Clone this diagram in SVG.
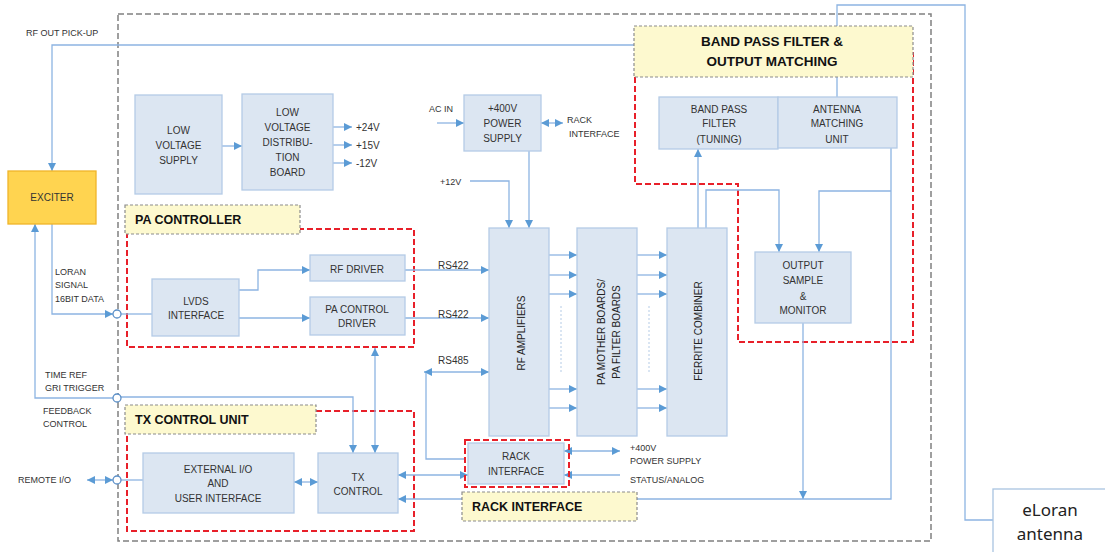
<svg xmlns="http://www.w3.org/2000/svg" width="1105" height="552" viewBox="0 0 1105 552">
<style>
.box{fill:#DCE6F2;stroke:#B4CBE6;stroke-width:1.3}
.t{font-family:"Liberation Sans",Arial,sans-serif;font-size:10px;fill:#333}
.s{font-family:"Liberation Sans",Arial,sans-serif;font-size:9px;fill:#333}
.m{text-anchor:middle}
.b{font-family:"Liberation Sans",Arial,sans-serif;font-weight:bold;fill:#111}
.r{font-family:"Liberation Sans",Arial,sans-serif;font-size:10px;fill:#222;text-anchor:middle}
.c{fill:none;stroke:#8DB4E2;stroke-width:1.3}
.ae{marker-end:url(#a)}
.as{marker-start:url(#a)}
.red{fill:none;stroke:#E8202A;stroke-width:2;stroke-dasharray:6 3}
.lbl{fill:#FDF9CF;stroke:#8C8C8C;stroke-width:1.2;stroke-dasharray:3 2}
.dot{fill:none;stroke:#B4CBE6;stroke-width:1;stroke-dasharray:2 2}
.circ{fill:#fff;stroke:#5B8FC7;stroke-width:1.3}
</style>
<defs>
<marker id="a" markerUnits="userSpaceOnUse" markerWidth="9" markerHeight="9" refX="8" refY="4" orient="auto-start-reverse">
<path d="M0,0 L8,4 L0,8 z" fill="#5B9BD5"/>
</marker>
</defs>
<rect width="1105" height="552" fill="#fff"/>

<!-- outer dashed frame -->
<rect id="frame" x="118" y="14" width="813" height="527" fill="none" stroke="#808080" stroke-width="1.5" stroke-dasharray="6 3"/>

<!-- region outlines -->
<g id="pa-controller">
<rect class="red" x="127" y="229" width="287" height="118"/>
<rect class="lbl" x="125" y="205" width="175" height="29"/>
<text class="b" x="135" y="224" font-size="12.5">PA CONTROLLER</text>
</g>
<g id="tx-control-unit">
<rect class="red" x="127" y="411" width="287" height="120"/>
<rect class="lbl" x="125" y="405" width="191" height="29"/>
<text class="b" x="135" y="424" font-size="12.5">TX CONTROL UNIT</text>
</g>
<g id="bpf-region">
<path class="red" d="M635,77 V184 H738 V342 H913 V52"/>
</g>

<!-- connectors -->
<g id="connectors">
<path class="c ae" d="M634,45 H52 V171"/>
<path class="c ae" d="M222,146 H242"/>
<path class="c ae" d="M333,127 H352"/>
<path class="c ae" d="M333,145 H352"/>
<path class="c ae" d="M333,163 H352"/>
<path class="c ae" d="M437,123 H464"/>
<path class="c ae as" d="M541,123 H563"/>
<path class="c ae" d="M470,181 H509 V228"/>
<path class="c ae" d="M529,151 V228"/>
<path class="c ae" d="M239,290 H258 V270 H310"/>
<path class="c ae" d="M239,318 H310"/>
<path class="c ae" d="M405,270 H489"/>
<path class="c ae" d="M405,318 H489"/>
<path class="c ae as" d="M424,372 H489"/>
<path class="c" d="M426,373 V459 H465"/>
<path class="c ae" d="M549,255 H577"/>
<path class="c ae" d="M549,275 H577"/>
<path class="c ae" d="M549,294 H577"/>
<path class="c ae" d="M549,389 H577"/>
<path class="c ae" d="M549,408 H577"/>
<path class="c ae" d="M637,255 H667"/>
<path class="c ae" d="M637,275 H667"/>
<path class="c ae" d="M637,294 H667"/>
<path class="c ae" d="M637,389 H667"/>
<path class="c ae" d="M637,408 H667"/>
<path class="dot" d="M561,306 V372"/>
<path class="dot" d="M649,306 V372"/>
<path class="c ae" d="M698,228 V149"/>
<path class="c ae" d="M706,228 V190 H779 V252"/>
<path class="c ae" d="M891,191 H819 V252"/>
<path class="c ae" d="M891,148 V499 H398"/>
<path class="c ae" d="M803,323 V499"/>
<path class="c" d="M837,97 V5 H965 V520 H993"/>
<path class="c ae" d="M52,224 V314 H113"/>
<path class="c" d="M121,314 H152"/>
<path class="c ae" d="M113,398 H35 V224"/>
<path class="c ae" d="M121,397 H353 V453"/>
<path class="c ae as" d="M375,348 V453"/>
<path class="c ae as" d="M87,480 H113"/>
<path class="c" d="M121,480 H143"/>
<path class="c ae as" d="M294,482 H318"/>
<path class="c ae as" d="M398,475 H468"/>
<path class="c ae as" d="M564,451 H620"/>
<path class="c ae" d="M620,475 H564"/>
<circle class="circ" cx="117" cy="314" r="4"/>
<circle class="circ" cx="117" cy="398" r="4"/>
<circle class="circ" cx="117" cy="480" r="4"/>
</g>

<!-- free labels -->
<g id="labels">
<text class="s" x="26" y="36">RF OUT PICK-UP</text>
<text class="s" x="55" y="275">LORAN</text>
<text class="s" x="55" y="288">SIGNAL</text>
<text class="s" x="55" y="302">16BIT DATA</text>
<text class="s" x="45" y="378">TIME REF</text>
<text class="s" x="45" y="391">GRI TRIGGER</text>
<text class="s" x="43" y="414">FEEDBACK</text>
<text class="s" x="43" y="427">CONTROL</text>
<text class="s" x="18" y="483">REMOTE I/O</text>
<text class="t" x="356" y="131">+24V</text>
<text class="t" x="356" y="149">+15V</text>
<text class="t" x="356" y="167">-12V</text>
<text class="s" x="429" y="112">AC IN</text>
<text class="s" x="567" y="123">RACK</text>
<text class="s" x="569" y="137">INTERFACE</text>
<text class="s" x="440" y="185">+12V</text>
<text class="t" x="438" y="268.5">RS422</text>
<text class="t" x="438" y="317.5">RS422</text>
<text class="t" x="438" y="363.5">RS485</text>
<text class="s" x="630" y="450.5">+400V</text>
<text class="s" x="630" y="463.5">POWER SUPPLY</text>
<text class="s" x="630" y="482.5">STATUS/ANALOG</text>
</g>

<!-- nodes -->
<g id="exciter">
<rect x="8" y="171" width="88" height="53" fill="#FFD450" stroke="#F0B429" stroke-width="1.3"/>
<text class="t m" x="52" y="201">EXCITER</text>
</g>
<g id="lv-supply">
<rect class="box" x="135" y="95" width="87" height="99"/>
<text class="t m" x="178.5" y="133.5">LOW</text>
<text class="t m" x="178.5" y="148.5">VOLTAGE</text>
<text class="t m" x="178.5" y="163.5">SUPPLY</text>
</g>
<g id="lv-dist">
<rect class="box" x="242" y="94" width="91" height="96"/>
<text class="t m" x="287.5" y="116">LOW</text>
<text class="t m" x="287.5" y="131">VOLTAGE</text>
<text class="t m" x="287.5" y="146">DISTRIBU-</text>
<text class="t m" x="287.5" y="161">TION</text>
<text class="t m" x="287.5" y="176">BOARD</text>
</g>
<g id="ps400">
<rect class="box" x="464" y="95" width="77" height="56"/>
<text class="t m" x="502.5" y="112">+400V</text>
<text class="t m" x="502.5" y="127">POWER</text>
<text class="t m" x="502.5" y="142">SUPPLY</text>
</g>
<g id="lvds">
<rect class="box" x="152" y="279" width="87" height="57"/>
<text class="t m" x="196" y="305">LVDS</text>
<text class="t m" x="196" y="319">INTERFACE</text>
</g>
<g id="rf-driver">
<rect class="box" x="310" y="255" width="95" height="26"/>
<text class="t m" x="357" y="272.5">RF DRIVER</text>
</g>
<g id="pa-ctrl-driver">
<rect class="box" x="310" y="297" width="95" height="38"/>
<text class="t m" x="357" y="312.5">PA CONTROL</text>
<text class="t m" x="357" y="326.5">DRIVER</text>
</g>
<g id="rf-amps">
<rect class="box" x="489" y="228" width="60" height="208"/>
<text class="r" x="524.5" y="333" transform="rotate(-90 524.5 333)">RF AMPLIFIERS</text>
</g>
<g id="pa-boards">
<rect class="box" x="577" y="228" width="60" height="208"/>
<text class="r" x="604.5" y="332" transform="rotate(-90 604.5 332)">PA MOTHER BOARDS/</text>
<text class="r" x="619.5" y="332" transform="rotate(-90 619.5 332)">PA FILTER BOARDS</text>
</g>
<g id="ferrite">
<rect class="box" x="667" y="228" width="60" height="208"/>
<text class="r" x="701.5" y="331" transform="rotate(-90 701.5 331)">FERRITE COMBINER</text>
</g>
<g id="bpf-label">
<rect class="lbl" x="634" y="26" width="279" height="51"/>
<text class="b m" x="772" y="46" font-size="13.5">BAND PASS FILTER &amp;</text>
<text class="b m" x="772" y="66" font-size="13.5">OUTPUT  MATCHING</text>
</g>
<g id="bpf">
<rect class="box" x="659" y="97" width="119" height="52"/>
<text class="t m" x="719" y="113">BAND PASS</text>
<text class="t m" x="719" y="127">FILTER</text>
<text class="t m" x="719" y="143">(TUNING)</text>
</g>
<g id="amu">
<rect class="box" x="778" y="97" width="119" height="51"/>
<text class="t m" x="837" y="113">ANTENNA</text>
<text class="t m" x="837" y="127">MATCHING</text>
<text class="t m" x="837" y="143">UNIT</text>
</g>
<g id="osm">
<rect class="box" x="755" y="252" width="96" height="71"/>
<text class="t m" x="803" y="268.5">OUTPUT</text>
<text class="t m" x="803" y="283.5">SAMPLE</text>
<text class="t m" x="803" y="299.5">&amp;</text>
<text class="t m" x="803" y="313.5">MONITOR</text>
</g>
<g id="ext-io">
<rect class="box" x="143" y="453" width="151" height="60"/>
<text class="t m" x="218" y="472.5">EXTERNAL I/O</text>
<text class="t m" x="218" y="486.5">AND</text>
<text class="t m" x="218" y="501.5">USER INTERFACE</text>
</g>
<g id="tx-control">
<rect class="box" x="318" y="453" width="80" height="60"/>
<text class="t m" x="358" y="480.5">TX</text>
<text class="t m" x="358" y="494.5">CONTROL</text>
</g>
<g id="rack-interface">
<rect class="box" x="468" y="443" width="96" height="41"/>
<rect class="red" x="465" y="440" width="104" height="47"/>
<text class="t m" x="516" y="459.5">RACK</text>
<text class="t m" x="516" y="474.5">INTERFACE</text>
</g>
<g id="rack-label">
<rect class="lbl" x="462" y="492" width="175" height="29"/>
<text class="b" x="472" y="511" font-size="12.5">RACK INTERFACE</text>
</g>
<g id="antenna">
<rect x="993" y="489" width="120" height="70" fill="#fff" stroke="#A9C4E0" stroke-width="1.3"/>
<text x="1050" y="516" text-anchor="middle" font-family="'Noto Sans','Liberation Sans',sans-serif" font-size="17" fill="#222">eLoran</text>
<text x="1050" y="540" text-anchor="middle" font-family="'Noto Sans','Liberation Sans',sans-serif" font-size="17" fill="#222">antenna</text>
</g>
</svg>
